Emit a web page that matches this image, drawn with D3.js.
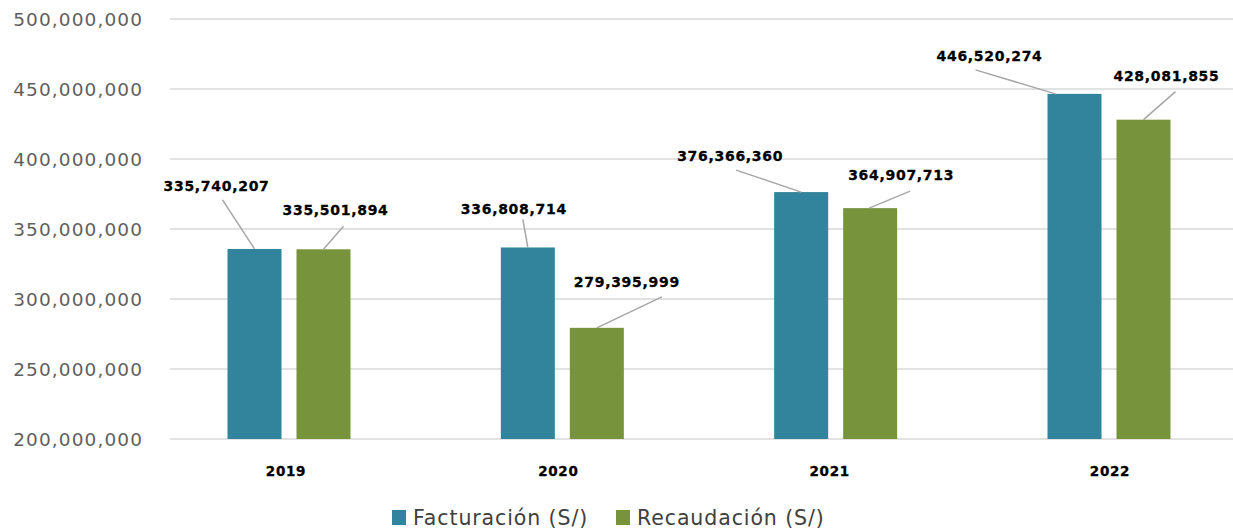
<!DOCTYPE html>
<html><head><meta charset="utf-8">
<script src="https://cdn.jsdelivr.net/npm/d3@7"></script>
<style>
html,body{margin:0;padding:0;background:#fff;}
svg{display:block;}
</style></head>
<body>
<svg id="c" width="1233" height="530"></svg>
<script>
const years = ["2019", "2020", "2021", "2022"];
const seriesNames = ["Facturación (S/)", "Recaudación (S/)"];
const facturacion = [335740207, 336808714, 376366360, 446520274];
const recaudacion = [335501894, 279395999, 364907713, 428081855];
const yTicks = [200000000, 250000000, 300000000, 350000000, 400000000, 450000000, 500000000];
const colors = ["#31849B", "#77933C"];

// label placement offsets relative to bar-top center (layout, not data)
const labelOffsets = [
  [[-38,-58],[12,-34]],
  [[-14,-33],[30,-41]],
  [[-71,-31],[31,-28]],
  [[-85,-33],[23,-39]]
];
const leaderStarts = [
  [[-32,-49],[20,-23]],
  [[-5,-28],[65,-31]],
  [[-65,-22],[40,-17]],
  [[-99,-24],[32,-28]]
];
const leaderEnds = [
  [[0,0],[0,0]],
  [[0,0],[0,0]],
  [[0,0],[-1,0]],
  [[-19,0],[0,0]]
];

const svg = d3.select("#c");
const plotLeft = 170, plotRight = 1233;
const y = d3.scaleLinear().domain([200000000, 500000000]).range([439, 19]);
const x = d3.scalePoint().domain(years).range([289, 1109]);
const xs = d3.scaleBand().domain(seriesNames).range([-61.5, 61.5]).paddingInner(15/69).paddingOuter(0);

// gridlines
svg.append("g").selectAll("line").data(yTicks).join("line")
  .attr("x1", plotLeft).attr("x2", plotRight)
  .attr("y1", d => y(d)).attr("y2", d => y(d))
  .attr("stroke", "#d9d9d9").attr("stroke-width", 1.5);

// y axis labels
const fmt = d3.format(",");
svg.append("g").selectAll("text").data(yTicks).join("text")
  .attr("x", 143).attr("y", d => y(d)).attr("dy", "0.36em")
  .attr("text-anchor", "end")
  .attr("font-family", "DejaVu Sans").attr("font-size", 18.5)
  .attr("letter-spacing", 1.1)
  .attr("fill", "#5f5f5f")
  .text(d => fmt(d));

const data = years.map((yr, i) => ({year: yr, i, vals: [facturacion[i], recaudacion[i]]}));

const groups = svg.append("g").selectAll("g").data(data).join("g")
  .attr("transform", d => `translate(${x(d.year)},0)`);

groups.selectAll("rect").data(d => d.vals.map((v, k) => ({v, k, i: d.i}))).join("rect")
  .attr("x", d => xs(seriesNames[d.k]))
  .attr("width", xs.bandwidth())
  .attr("y", d => y(d.v))
  .attr("height", d => y(200000000) - y(d.v))
  .attr("fill", d => colors[d.k]);

// leader lines
groups.selectAll("line.leader").data(d => d.vals.map((v, k) => ({v, k, i: d.i}))).join("line")
  .attr("class", "leader")
  .attr("x1", d => xs(seriesNames[d.k]) + xs.bandwidth()/2 + leaderStarts[d.i][d.k][0])
  .attr("y1", d => y(d.v) + leaderStarts[d.i][d.k][1])
  .attr("x2", d => xs(seriesNames[d.k]) + xs.bandwidth()/2 + leaderEnds[d.i][d.k][0])
  .attr("y2", d => y(d.v) + leaderEnds[d.i][d.k][1])
  .attr("stroke", "#a6a6a6").attr("stroke-width", 1.5);

// value labels
groups.selectAll("text.val").data(d => d.vals.map((v, k) => ({v, k, i: d.i}))).join("text")
  .attr("class", "val")
  .attr("x", d => xs(seriesNames[d.k]) + xs.bandwidth()/2 + labelOffsets[d.i][d.k][0])
  .attr("y", d => y(d.v) + labelOffsets[d.i][d.k][1])
  .attr("text-anchor", "middle")
  .attr("font-family", "DejaVu Sans").attr("font-weight", "bold")
  .attr("font-size", 14).attr("letter-spacing", 0.7)
  .attr("stroke", "#000").attr("stroke-width", 0.3)
  .attr("fill", "#000")
  .text(d => fmt(d.v));

// x axis year labels
const yearLabelShift = [-3, -4, -6, 1];
svg.append("g").selectAll("text").data(data).join("text")
  .attr("x", d => x(d.year) + yearLabelShift[d.i])
  .attr("y", 476)
  .attr("text-anchor", "middle")
  .attr("font-family", "DejaVu Sans").attr("font-weight", "bold")
  .attr("font-size", 13.5).attr("letter-spacing", 0.7)
  .attr("stroke", "#000").attr("stroke-width", 0.3)
  .attr("fill", "#000")
  .text(d => d.year);

// legend
const legend = svg.append("g").attr("transform", "translate(392,510)");
const legendX = d3.scaleOrdinal().domain(seriesNames).range([0, 224]);
const li = legend.selectAll("g").data(seriesNames).join("g")
  .attr("transform", d => `translate(${legendX(d)},0)`);
li.append("rect").attr("width", 14).attr("height", 15).attr("fill", (d, k) => colors[k]);
li.append("text").attr("x", 21).attr("y", 14.5)
  .attr("font-family", "DejaVu Sans").attr("font-size", 20.5)
  .attr("letter-spacing", 0.9)
  .attr("fill", "#404040")
  .text(d => d);
</script>
</body></html>
